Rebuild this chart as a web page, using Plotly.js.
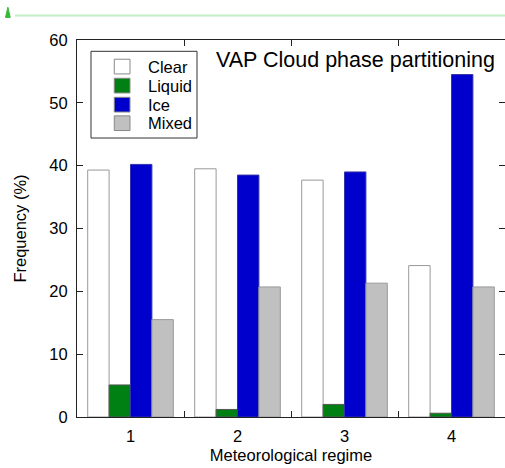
<!DOCTYPE html>
<html>
<head>
<meta charset="utf-8">
<script src="https://cdn.plot.ly/plotly-3.0.1.min.js"></script>
<style>html,body{margin:0;padding:0;background:#fff;}#chart{width:505px;height:468px;}</style>
</head>
<body>
<div id="chart"></div>
<script>
const regimes = [1, 2, 3, 4];
const clearVals  = [39.3, 39.5, 37.7, 24.1];
const liquidVals = [5.1, 1.2, 2.0, 0.6];
const iceVals    = [40.2, 38.5, 39.0, 54.5];
const mixedVals  = [15.5, 20.7, 21.3, 20.7];
const seriesNames = ['Clear', 'Liquid', 'Ice', 'Mixed'];
const yTicks = [0, 10, 20, 30, 40, 50, 60];
const groupEdges = [1.5, 2.5, 3.5];

const fills = ['#ffffff', '#007f12', '#0000cc', '#c0c0c0'];
const lines = ['#999999', '#555555', '#3333aa', '#999999'];
const values = [clearVals, liquidVals, iceVals, mixedVals];

const traces = values.map((v, i) => ({
  type: 'bar',
  x: regimes,
  y: v,
  name: seriesNames[i],
  marker: {color: fills[i], line: {color: lines[i], width: 1}},
  hoverinfo: 'x+y+name'
}));

const fam = 'Liberation Sans, Arial, sans-serif';
const fs = 16.5;

// hand-drawn legend (compact spacing like the reference)
const legShapes = [{
  type: 'rect', xref: 'paper', yref: 'paper',
  x0: 0.0327, x1: 0.2804, y0: 0.740, y1: 0.970,
  fillcolor: '#fff', line: {color: '#333', width: 1}
}];
const legAnn = [];
const legY = [0.9295, 0.8790, 0.8285, 0.7793];
seriesNames.forEach((n, i) => {
  legShapes.push({
    type: 'rect', xref: 'paper', yref: 'paper',
    x0: 0.0871, x1: 0.1238, y0: legY[i] - 0.0195, y1: legY[i] + 0.0195,
    fillcolor: fills[i], line: {color: '#888', width: 1}
  });
  legAnn.push({
    text: n, xref: 'paper', yref: 'paper', x: 0.1612, y: legY[i],
    xanchor: 'left', yanchor: 'middle', showarrow: false,
    font: {family: fam, size: fs, color: '#000'}
  });
});

const layout = {
  width: 505, height: 468,
  margin: {l: 77, r: 0, t: 40, b: 50.5, pad: 0},
  paper_bgcolor: '#fff', plot_bgcolor: '#fff',
  font: {family: fam, size: fs, color: '#000'},
  barmode: 'group', bargap: 0.2, bargroupgap: 0,
  showlegend: false,
  xaxis: {
    range: [0.5, 4.5], tickvals: regimes, ticktext: regimes.map(String),
    ticks: '', showgrid: false, zeroline: false,
    showline: true, linecolor: '#222', linewidth: 1, mirror: 'allticks',
    tickfont: {size: fs}, ticklabelstandoff: 4,
    minor: {tickvals: groupEdges, ticks: 'inside', ticklen: 6, tickcolor: '#222', showgrid: false},
    title: {text: 'Meteorological regime', font: {size: fs}, standoff: 5}
  },
  yaxis: {
    range: [0, 60], tickvals: yTicks, ticks: 'inside', ticklen: 6, tickcolor: '#222',
    showgrid: false, zeroline: false,
    showline: true, linecolor: '#222', linewidth: 1, mirror: 'ticks',
    tickfont: {size: fs}, ticklabelstandoff: 5,
    title: {text: 'Frequency (%)', font: {size: fs}, standoff: 18}
  },
  annotations: [{
    text: 'VAP Cloud phase partitioning', xref: 'paper', yref: 'paper',
    x: 0.6507, y: 0.9468, xanchor: 'center', yanchor: 'middle', showarrow: false,
    font: {family: fam, size: 21.5, color: '#000'}
  }].concat(legAnn),
  shapes: [
    {type: 'line', xref: 'paper', yref: 'paper', x0: -0.145, x1: 1.0, y0: 1.065, y1: 1.065,
     line: {color: '#c4eec4', width: 2}},
    {type: 'path', xref: 'paper', yref: 'paper',
     path: 'M -0.167 1.060 L -0.156 1.060 L -0.1615 1.087 Z',
     fillcolor: '#33bb33', line: {color: '#33bb33', width: 1}}
  ].concat(legShapes)
};

Plotly.newPlot('chart', traces, layout, {displayModeBar: false, staticPlot: true});
</script>
</body>
</html>
